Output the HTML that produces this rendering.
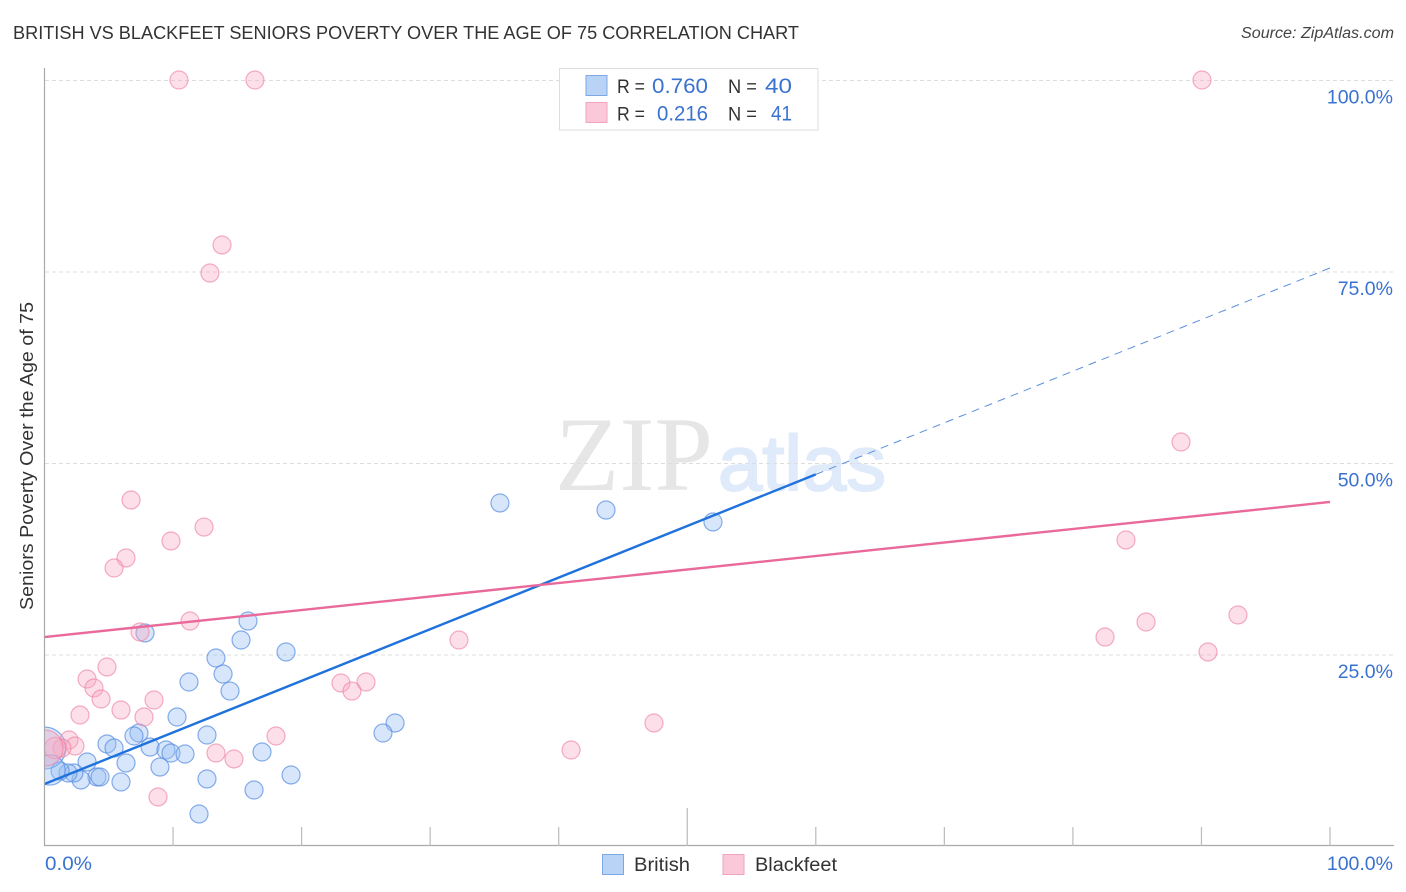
<!DOCTYPE html>
<html>
<head>
<meta charset="utf-8">
<title>British vs Blackfeet Seniors Poverty Over the Age of 75 Correlation Chart</title>
<style>
html,body{margin:0;padding:0;background:#fff;}
svg{display:block;}
text{font-family:"Liberation Sans",sans-serif;}
</style>
</head>
<body>
<svg id="chart" xmlns="http://www.w3.org/2000/svg" width="1406" height="892" viewBox="0 0 1406 892">
  <defs>
    <clipPath id="plot-clip"><rect x="45" y="60" width="1349" height="786"/></clipPath>
  </defs>
  <rect x="0" y="0" width="1406" height="892" fill="#ffffff"/>
  <text x="13" y="39" font-size="18.5" fill="#333333" textLength="786" lengthAdjust="spacingAndGlyphs">BRITISH VS BLACKFEET SENIORS POVERTY OVER THE AGE OF 75 CORRELATION CHART</text>
  <text x="1241" y="38" font-size="15.5" font-style="italic" fill="#444444" textLength="153" lengthAdjust="spacingAndGlyphs">Source: ZipAtlas.com</text>

  <g>
    <text x="555" y="490" font-size="106" fill="#e6e6e6" textLength="158" lengthAdjust="spacingAndGlyphs" style="font-family:'Liberation Serif',serif">ZIP</text>
    <text x="718" y="490" font-size="78" fill="#dfeafa" stroke="#dfeafa" stroke-width="2" textLength="168" lengthAdjust="spacingAndGlyphs">atlas</text>
  </g>

  <g id="grid"></g>
  <g id="points" clip-path="url(#plot-clip)"></g>
  <g id="trends"></g>

  <line x1="44.5" y1="68" x2="44.5" y2="846" stroke="#aaaaaa" stroke-width="1.2"/>
  <line x1="44" y1="845.5" x2="1394" y2="845.5" stroke="#aaaaaa" stroke-width="1.2"/>
  <g id="x-ticks"></g>
  <g id="y-labels"></g>
  <g id="x-labels"></g>

  <text transform="translate(33,456) rotate(-90)" font-size="18" fill="#333333" text-anchor="middle" textLength="308" lengthAdjust="spacingAndGlyphs">Seniors Poverty Over the Age of 75</text>

  <g>
    <rect x="559.5" y="68.5" width="258.5" height="61.5" fill="#ffffff" stroke="#dddddd" stroke-width="1"/>
    <rect x="586" y="75.5" width="21" height="20" fill="#b9d3f7" stroke="#7ea8e4" stroke-width="1"/>
    <rect x="586" y="102.5" width="21" height="20" fill="#fbc8d9" stroke="#f2a3bd" stroke-width="1"/>
    <text x="617" y="93" font-size="19" fill="#333333" textLength="28" lengthAdjust="spacingAndGlyphs">R =</text>
    <text x="652" y="93" font-size="21.5" fill="#3a72d0" textLength="56" lengthAdjust="spacingAndGlyphs">0.760</text>
    <text x="728" y="93" font-size="19" fill="#333333" textLength="29" lengthAdjust="spacingAndGlyphs">N =</text>
    <text x="765" y="93" font-size="21.5" fill="#3a72d0" textLength="27" lengthAdjust="spacingAndGlyphs">40</text>
    <text x="617" y="120.5" font-size="19" fill="#333333" textLength="28" lengthAdjust="spacingAndGlyphs">R =</text>
    <text x="657" y="120.5" font-size="21.5" fill="#3a72d0" textLength="51" lengthAdjust="spacingAndGlyphs">0.216</text>
    <text x="728" y="120.5" font-size="19" fill="#333333" textLength="29" lengthAdjust="spacingAndGlyphs">N =</text>
    <text x="771" y="120.5" font-size="21.5" fill="#3a72d0" textLength="21" lengthAdjust="spacingAndGlyphs">41</text>
  </g>

  <g>
    <g>
      <rect x="602.5" y="854.5" width="21" height="20" fill="#b9d3f7" stroke="#7ea8e4" stroke-width="1"/>
      <text x="634" y="871" font-size="19" fill="#333333" textLength="56" lengthAdjust="spacingAndGlyphs">British</text>
    </g>
    <g>
      <rect x="723" y="854.5" width="21" height="20" fill="#fbc8d9" stroke="#f2a3bd" stroke-width="1"/>
      <text x="755" y="871" font-size="19" fill="#333333" textLength="82" lengthAdjust="spacingAndGlyphs">Blackfeet</text>
    </g>
  </g>
</svg>

<script>
var britishX = [15.83,7.82,15.29,18.79,13.34,13.89,11.24,14.43,10.31,12.64,7.35,6.96,4.86,5.41,8.21,9.45,9.84,10.93,16.92,6.34,3.31,8.98,19.18,12.64,4.08,4.32,5.95,2.84,2.29,1.83,1.21,16.30,12.02,35.43,43.68,52.00,27.27,26.33,0.04,0.43];
var britishY = [29.37,27.81,26.89,25.33,24.54,22.45,21.41,20.23,16.84,14.49,14.75,14.36,13.32,12.79,12.92,12.53,12.14,12.01,12.27,10.84,10.97,10.31,9.27,8.75,9.01,9.01,8.36,8.62,9.53,9.53,9.79,7.31,4.18,44.78,43.86,42.30,16.06,14.75,12.79,9.92];
var britishWeight = [1,1,1,1,1,1,1,1,1,1,1,1,1,1,1,1,1,1,1,1,1,1,1,1,1,1,1,1,1,1,1,1,1,1,1,1,1,1,5.4,2.8];
var blackfeetX = [10.46,16.37,90.04,13.81,12.87,88.41,6.73,12.41,9.84,84.13,6.34,5.41,92.84,11.32,85.69,7.43,82.50,32.24,90.51,4.86,3.31,3.85,4.40,23.06,25.01,23.92,8.52,5.95,2.76,7.74,47.41,18.01,40.96,13.34,14.74,8.83,1.91,2.37,1.36,0.82,0.04];
var blackfeetY = [100,100,100,78.46,74.80,52.74,45.17,41.64,39.82,39.95,37.60,36.29,30.16,29.37,29.24,27.94,27.28,26.89,25.33,23.37,21.80,20.63,19.19,21.28,21.41,20.23,19.06,17.75,17.10,16.84,16.06,14.36,12.53,12.14,11.36,6.40,13.84,13.05,12.79,12.79,12.79];
var blackfeetWeight = [1,1,1,1,1,1,1,1,1,1,1,1,1,1,1,1,1,1,1,1,1,1,1,1,1,1,1,1,1,1,1,1,1,1,1,1,1,1,1,1.4,4];
var britishTrend = [8.09,75.46];
var blackfeetTrend = [27.28,44.91];
var britishSolidEnd = 60;
var yTicks = [25,50,75,100];
var yTickLabels = ["25.0%","50.0%","75.0%","100.0%"];
var xTicks = [10,20,30,40,50,60,70,80,90,100];
var xEndLabels = ["0.0%","100.0%"];

var NS = "http://www.w3.org/2000/svg";
function xScale(v){ return 44.5 + v * 12.855; }
function yScale(v){ return 846 - v * 7.66; }
function rScale(w){ return 9 * Math.sqrt(w); }
function trendY(t, v){ return t[0] + (t[1] - t[0]) * v / 100; }
function make(tag, attrs){
  var el = document.createElementNS(NS, tag);
  for (var k in attrs) el.setAttribute(k, attrs[k]);
  return el;
}

var grid = document.getElementById("grid");
var yLabels = document.getElementById("y-labels");
yTicks.forEach(function(t, i){
  var g = make("line", {x1:45, x2:1393, y1:yScale(t)+0.5, y2:yScale(t)+0.5, stroke:"#dddddd", "stroke-width":1, "stroke-dasharray":"4 3"});
  
  
  grid.appendChild(g);
  var lab = make("text", {x:1393, y:yScale(t)+23.5, "font-size":19.5, fill:"#3a72d0", "text-anchor":"end"});
  
  
  lab.textContent = yTickLabels[i];
  yLabels.appendChild(lab);
});

var xTickGroup = document.getElementById("x-ticks");
xTicks.forEach(function(t){
  var top = t === 50 ? 808 : 827;
  var tk = make("line", {x1:xScale(t), x2:xScale(t), y1:top, y2:846, stroke:"#bbbbbb", "stroke-width":1.2});
  
  
  xTickGroup.appendChild(tk);
});

var xLabels = document.getElementById("x-labels");
var lab0 = make("text", {x:45, y:870, "font-size":19.5, fill:"#3a72d0", textLength:47, lengthAdjust:"spacingAndGlyphs"});


lab0.textContent = xEndLabels[0];
xLabels.appendChild(lab0);
var lab1 = make("text", {x:1393, y:870, "font-size":19.5, fill:"#3a72d0", "text-anchor":"end"});


lab1.textContent = xEndLabels[1];
xLabels.appendChild(lab1);

var pts = document.getElementById("points");
britishX.forEach(function(v, i){
  var c = make("circle", {cx:xScale(v), cy:yScale(britishY[i]), r:rScale(britishWeight[i]), fill:"rgba(150,190,242,0.38)", stroke:"rgba(85,140,225,0.7)", "stroke-width":1.2});
  
  
  pts.appendChild(c);
});
blackfeetX.forEach(function(v, i){
  var c = make("circle", {cx:xScale(v), cy:yScale(blackfeetY[i]), r:rScale(blackfeetWeight[i]), fill:"rgba(248,170,195,0.38)", stroke:"rgba(238,130,165,0.65)", "stroke-width":1.2});
  
  
  pts.appendChild(c);
});

var trends = document.getElementById("trends");
var dash = make("line", {x1:xScale(britishSolidEnd), y1:yScale(trendY(britishTrend, britishSolidEnd)), x2:xScale(100), y2:yScale(trendY(britishTrend, 100)), stroke:"#5b8fdc", "stroke-width":1, "stroke-dasharray":"8 6"});


trends.appendChild(dash);
var solid = make("line", {x1:xScale(0), y1:yScale(trendY(britishTrend, 0)), x2:xScale(britishSolidEnd), y2:yScale(trendY(britishTrend, britishSolidEnd)), stroke:"#1f72dc", "stroke-width":2.4});


trends.appendChild(solid);
var pink = make("line", {x1:xScale(0), y1:yScale(trendY(blackfeetTrend, 0)), x2:xScale(100), y2:yScale(trendY(blackfeetTrend, 100)), stroke:"#e9699b", "stroke-width":2.4});


trends.appendChild(pink);
</script>
</body>
</html>
